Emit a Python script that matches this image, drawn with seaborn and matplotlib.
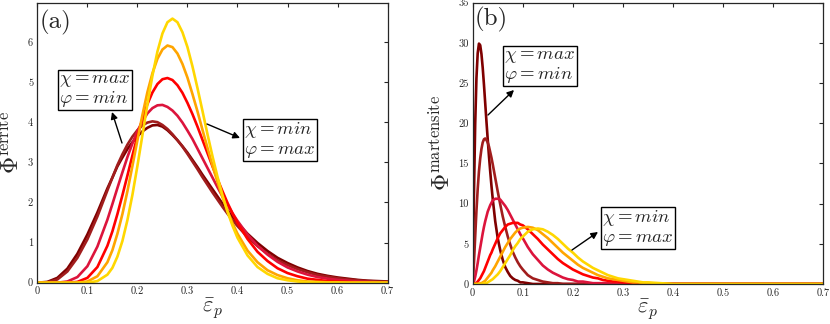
import numpy as np
import pandas as pd
import matplotlib
matplotlib.use("Agg")
import matplotlib.pyplot as plt
import seaborn as sns

# ---------------- data ----------------
curves = ["c1", "c2", "c3", "c4", "c5", "c6"]          # chi = max ... chi = min
colors = ["#7f0000", "#a11d1d", "#dc143c", "#ff0000", "#ffa500", "#ffd700"]

x_a = [0, 0.02, 0.04, 0.06, 0.08, 0.10, 0.12, 0.14,
       0.15, 0.16, 0.17, 0.18, 0.19, 0.20, 0.21, 0.22, 0.23, 0.24, 0.25, 0.26, 0.27,
       0.28, 0.29, 0.30, 0.31, 0.32, 0.33, 0.34, 0.35, 0.36, 0.37, 0.38, 0.39, 0.40,
       0.42, 0.44, 0.46, 0.48, 0.50, 0.52, 0.54, 0.56, 0.58, 0.60, 0.62, 0.64, 0.66, 0.68, 0.70]

ferrite_c1 = [0, 0.02, 0.12, 0.35, 0.72, 1.20, 1.75, 2.35,
              2.62, 2.90, 3.12, 3.33, 3.50, 3.65, 3.77, 3.86, 3.92, 3.93, 3.89, 3.80, 3.68,
              3.55, 3.40, 3.24, 3.06, 2.88, 2.69, 2.51, 2.33, 2.15, 1.97, 1.80, 1.65, 1.49,
              1.22, 0.99, 0.79, 0.62, 0.49, 0.38, 0.29, 0.22, 0.17, 0.13, 0.10, 0.07, 0.05, 0.04, 0.03]
ferrite_c2 = [0, 0.01, 0.08, 0.28, 0.62, 1.08, 1.65, 2.30,
              2.62, 2.93, 3.20, 3.44, 3.64, 3.80, 3.92, 3.99, 4.02, 4.00, 3.93, 3.83, 3.70,
              3.55, 3.39, 3.21, 3.02, 2.83, 2.63, 2.44, 2.25, 2.07, 1.89, 1.72, 1.56, 1.41,
              1.14, 0.91, 0.72, 0.56, 0.44, 0.34, 0.26, 0.19, 0.15, 0.11, 0.08, 0.06, 0.04, 0.03, 0.02]
ferrite_c3 = [0, 0, 0, 0.03, 0.14, 0.41, 0.90, 1.57,
              1.96, 2.36, 2.75, 3.13, 3.47, 3.78, 4.02, 4.22, 4.35, 4.42, 4.43, 4.38, 4.29,
              4.16, 3.99, 3.79, 3.58, 3.34, 3.10, 2.86, 2.62, 2.38, 2.15, 1.94, 1.73, 1.54,
              1.20, 0.92, 0.70, 0.52, 0.38, 0.28, 0.20, 0.14, 0.10, 0.07, 0.05, 0.03, 0.02, 0.01, 0.01]
ferrite_c4 = [0, 0, 0, 0, 0.02, 0.12, 0.39, 0.92,
              1.28, 1.71, 2.18, 2.67, 3.17, 3.65, 4.08, 4.45, 4.74, 4.95, 5.07, 5.10, 5.05,
              4.92, 4.73, 4.48, 4.20, 3.89, 3.56, 3.23, 2.90, 2.58, 2.28, 1.99, 1.73, 1.49,
              1.09, 0.77, 0.54, 0.36, 0.24, 0.16, 0.10, 0.07, 0.04, 0.03, 0.02, 0.01, 0.01, 0, 0]
ferrite_c5 = [0, 0, 0, 0, 0, 0.03, 0.16, 0.51,
              0.81, 1.22, 1.71, 2.28, 2.91, 3.55, 4.18, 4.75, 5.22, 5.58, 5.81, 5.91, 5.87,
              5.71, 5.45, 5.11, 4.70, 4.27, 3.81, 3.36, 2.92, 2.51, 2.13, 1.79, 1.48, 1.22,
              0.80, 0.51, 0.31, 0.19, 0.11, 0.06, 0.03, 0.02, 0.01, 0.01, 0, 0, 0, 0, 0]
ferrite_c6 = [0, 0, 0, 0, 0, 0, 0.04, 0.20,
              0.37, 0.65, 1.04, 1.56, 2.19, 2.91, 3.68, 4.45, 5.16, 5.76, 6.21, 6.49, 6.58,
              6.49, 6.24, 5.87, 5.39, 4.85, 4.28, 3.70, 3.15, 2.64, 2.18, 1.77, 1.42, 1.12,
              0.68, 0.39, 0.22, 0.11, 0.06, 0.03, 0.01, 0.01, 0, 0, 0, 0, 0, 0, 0]

x_b = [0, 0.0025, 0.005, 0.0075, 0.01, 0.0125, 0.015, 0.0175, 0.02, 0.0225, 0.025,
       0.0275, 0.03, 0.0325, 0.035, 0.0375, 0.04,
       0.045, 0.05, 0.055, 0.06, 0.065, 0.07, 0.075, 0.08, 0.085, 0.09, 0.095, 0.10,
       0.11, 0.12, 0.13, 0.14, 0.15, 0.16, 0.17, 0.18, 0.19, 0.20, 0.21, 0.22, 0.23,
       0.24, 0.25, 0.26, 0.27, 0.28, 0.29, 0.30, 0.31, 0.32, 0.33, 0.34, 0.35,
       0.40, 0.50, 0.60, 0.70]

martensite_c1 = [0, 11.1, 19.9, 25.6, 28.7, 29.9, 29.7, 28.6, 26.9, 24.8, 22.5,
                 20.2, 18.0, 15.9, 14.0, 12.2, 10.6,
                 7.8, 5.7, 4.2, 3.0, 2.1, 1.5, 1.0, 0.7, 0.5, 0.4, 0.2, 0.2,
                 0.1, 0, 0, 0, 0, 0, 0, 0, 0, 0, 0, 0, 0,
                 0, 0, 0, 0, 0, 0, 0, 0, 0, 0, 0, 0,
                 0, 0, 0, 0]
martensite_c2 = [0, 2.6, 5.9, 9.1, 11.8, 14.0, 15.6, 16.8, 17.6, 18.0, 18.1,
                 17.9, 17.6, 17.1, 16.4, 15.7, 14.9,
                 13.2, 11.5, 9.9, 8.4, 7.1, 5.9, 4.9, 4.0, 3.3, 2.7, 2.2, 1.8,
                 1.1, 0.7, 0.5, 0.3, 0.2, 0.1, 0.1, 0, 0, 0, 0, 0, 0,
                 0, 0, 0, 0, 0, 0, 0, 0, 0, 0, 0, 0,
                 0, 0, 0, 0]
martensite_c3 = [0, 0.3, 0.9, 1.7, 2.6, 3.6, 4.5, 5.4, 6.3, 7.1, 7.8,
                 8.4, 9.0, 9.4, 9.8, 10.1, 10.4,
                 10.6, 10.6, 10.5, 10.1, 9.7, 9.2, 8.6, 8.0, 7.4, 6.8, 6.2, 5.7,
                 4.6, 3.7, 3.0, 2.3, 1.8, 1.4, 1.1, 0.8, 0.6, 0.5, 0.3, 0.3, 0.2,
                 0.1, 0.1, 0.1, 0.1, 0, 0, 0, 0, 0, 0, 0, 0,
                 0, 0, 0, 0]
martensite_c4 = [0, 0, 0.1, 0.1, 0.3, 0.5, 0.7, 1.0, 1.3, 1.6, 2.0,
                 2.4, 2.8, 3.2, 3.6, 3.9, 4.3,
                 5.0, 5.7, 6.3, 6.7, 7.1, 7.4, 7.5, 7.6, 7.6, 7.6, 7.4, 7.3,
                 6.8, 6.2, 5.6, 4.9, 4.3, 3.7, 3.1, 2.6, 2.2, 1.8, 1.5, 1.2, 1.0,
                 0.8, 0.7, 0.5, 0.4, 0.3, 0.3, 0.2, 0.2, 0.1, 0.1, 0.1, 0.1,
                 0, 0, 0, 0]
martensite_c5 = [0, 0, 0, 0, 0, 0, 0.1, 0.1, 0.2, 0.3, 0.4,
                 0.6, 0.8, 1.0, 1.2, 1.4, 1.7,
                 2.2, 2.8, 3.4, 4.0, 4.6, 5.1, 5.6, 6.0, 6.4, 6.7, 6.9, 7.0,
                 7.1, 7.0, 6.7, 6.2, 5.7, 5.1, 4.5, 3.9, 3.4, 2.9, 2.4, 2.0, 1.7,
                 1.4, 1.1, 0.9, 0.7, 0.6, 0.5, 0.4, 0.3, 0.2, 0.2, 0.1, 0.1,
                 0, 0, 0, 0]
martensite_c6 = [0, 0, 0, 0, 0, 0, 0, 0, 0, 0.1, 0.1,
                 0.1, 0.2, 0.3, 0.4, 0.5, 0.6,
                 0.9, 1.2, 1.6, 2.1, 2.6, 3.1, 3.6, 4.2, 4.7, 5.1, 5.6, 5.9,
                 6.5, 6.8, 6.9, 6.8, 6.5, 6.1, 5.6, 5.0, 4.4, 3.9, 3.3, 2.8, 2.4,
                 2.0, 1.7, 1.4, 1.1, 0.9, 0.7, 0.6, 0.5, 0.4, 0.3, 0.2, 0.2,
                 0, 0, 0, 0]

x_ticks = [0, 0.1, 0.2, 0.3, 0.4, 0.5, 0.6, 0.7]
x_ticklabels = ["0", "0.1", "0.2", "0.3", "0.4", "0.5", "0.6", "0.7"]
ya_ticks = [0, 1, 2, 3, 4, 5, 6]
yb_ticks = [0, 5, 10, 15, 20, 25, 30, 35]

ferrite = [ferrite_c1, ferrite_c2, ferrite_c3, ferrite_c4, ferrite_c5, ferrite_c6]
martensite = [martensite_c1, martensite_c2, martensite_c3, martensite_c4, martensite_c5, martensite_c6]

rows = []
for name, ys in zip(curves, ferrite):
    for x, y in zip(x_a, ys):
        rows.append(("a", name, x, y))
for name, ys in zip(curves, martensite):
    for x, y in zip(x_b, ys):
        rows.append(("b", name, x, y))
df = pd.DataFrame(rows, columns=["panel", "curve", "x", "y"])

# ---------------- figure ----------------
sns.set_style("white")
plt.rcParams["mathtext.fontset"] = "cm"
plt.rcParams["font.family"] = ["cmr10", "DejaVu Serif"]
plt.rcParams["axes.unicode_minus"] = False

fig = plt.figure(figsize=(8.3, 3.24), dpi=100)
axa = fig.add_axes([0.045, 0.1275, 0.422, 0.8633])
axb = fig.add_axes([0.5695, 0.1235, 0.4225, 0.8685])

for ax, pan in ((axa, "a"), (axb, "b")):
    sub = df[df.panel == pan]
    sns.lineplot(data=sub, x="x", y="y", hue="curve", hue_order=curves, palette=colors,
                 ax=ax, legend=False, linewidth=1.9, estimator=None, sort=False)
    ax.set_xlim(0, 0.7)
    ax.set_xticks(x_ticks)
    ax.set_xticklabels(x_ticklabels)
    ax.tick_params(direction="in", length=3, width=0.8, labelsize=7.5,
                   top=True, right=True, colors="#262626", pad=3)
    for s in ax.spines.values():
        s.set_color("#262626")
        s.set_linewidth(0.9)
    ax.set_xlabel(r"$\bar{\varepsilon}_p$", fontsize=16, labelpad=0)

axa.set_ylim(0, 6.97)
axa.set_yticks(ya_ticks)
axa.set_yticklabels([str(v) for v in ya_ticks])
axa.set_ylabel(r"$\Phi^{\mathrm{ferrite}}$", fontsize=17, labelpad=3)
axb.set_ylim(0, 35)
axb.set_yticks(yb_ticks)
axb.set_yticklabels([str(v) for v in yb_ticks])
axb.set_ylabel(r"$\Phi^{\mathrm{martensite}}$", fontsize=17, labelpad=3)

axa.text(0.006, 0.975, "(a)", transform=axa.transAxes, fontsize=18, va="top", ha="left")
axb.text(0.006, 0.985, "(b)", transform=axb.transAxes, fontsize=18, va="top", ha="left")

box = dict(boxstyle="square,pad=0.08", fc="white", ec="black", lw=1.0)
arrow = dict(arrowstyle="-|>", color="black", lw=1.0, mutation_scale=10, shrinkA=0, shrinkB=0)

def annot(txt, text_px, tail_px, head_px):
    fig.text(text_px[0] / 830, 1 - text_px[1] / 324, txt, fontsize=13.5,
             ha="left", va="center", bbox=box, linespacing=0.95)
    fig.add_artist(matplotlib.patches.FancyArrowPatch(
        (tail_px[0] / 830, 1 - tail_px[1] / 324), (head_px[0] / 830, 1 - head_px[1] / 324),
        transform=fig.transFigure, **arrow))

annot("$\\chi = max$\n$\\varphi = min$", (59, 90), (122, 143), (112, 112))
annot("$\\chi = min$\n$\\varphi = max$", (244, 140), (207, 124), (240, 138))
annot("$\\chi = max$\n$\\varphi = min$", (504, 66), (488, 115), (514, 90))
annot("$\\chi = min$\n$\\varphi = max$", (602, 228), (572, 250), (598, 232))

fig.savefig("out.png", dpi=100)
